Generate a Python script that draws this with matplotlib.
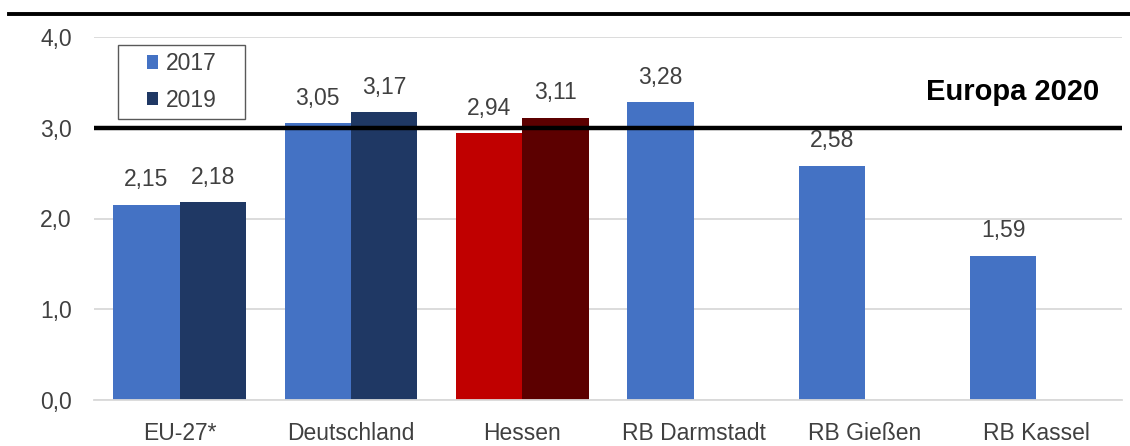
import numpy as np
import matplotlib.pyplot as plt
from matplotlib.patches import Rectangle

plt.rcParams['font.family'] = ['Liberation Sans', 'DejaVu Sans']

categories = ["EU-27*", "Deutschland", "Hessen", "RB Darmstadt", "RB Gießen", "RB Kassel"]
values_2017 = [2.15, 3.05, 2.94, 3.28, 2.58, 1.59]
values_2019 = [2.18, 3.17, 3.11, None, None, None]
target = 3.0

blue = "#4472C4"
navy = "#1F3864"
red = "#C00000"
darkred = "#5C0000"
txt = "#404040"
fs = 16.5
W, H = 1130, 446

fig = plt.figure(figsize=(11.3, 4.46), dpi=100)
ax = fig.add_axes([94 / W, (H - 400) / H, 1028 / W, 363 / H])

x = np.arange(len(categories))
w = 0.388
c17 = [red if c == "Hessen" else blue for c in categories]
c19 = [darkred if c == "Hessen" else navy for c in categories]

for i in range(len(categories)):
    ax.bar(x[i] - w / 2, values_2017[i], w, color=c17[i], zorder=2)
    ax.text(x[i] - w / 2, values_2017[i] + 0.15, "{:.2f}".format(values_2017[i]).replace(".", ","),
            ha="center", va="bottom", fontsize=fs, color=txt)
    if values_2019[i] is not None:
        ax.bar(x[i] + w / 2, values_2019[i], w, color=c19[i], zorder=2)
        ax.text(x[i] + w / 2, values_2019[i] + 0.15, "{:.2f}".format(values_2019[i]).replace(".", ","),
                ha="center", va="bottom", fontsize=fs, color=txt)

# legend without frame, box drawn by hand (wider padding than legend allows)
h1 = ax.bar(0, 0, color=blue, label="2017")
h2 = ax.bar(0, 0, color=navy, label="2019")
leg = fig.legend(handles=[h1, h2], loc="center", bbox_to_anchor=(182 / W, 1 - 82 / H),
                 fontsize=fs, frameon=False,
                 handlelength=0.5, handleheight=0.5, handletextpad=0.35,
                 labelspacing=0.6, borderpad=0.0, labelcolor=txt)
fig.add_artist(Rectangle((118 / W, 1 - 119 / H), 127 / W, 74 / H, transform=fig.transFigure,
                         fill=False, edgecolor="#595959", lw=1.0))

ax.axhline(target, color="black", lw=3.2, zorder=4)
ax.text(5.37, 3.39, "Europa 2020", ha="right", va="center", fontsize=21,
        fontweight="bold", color="black")

ax.set_xlim(-0.5, 5.5)
ax.set_ylim(0, 4.0)
ax.set_yticks([0, 1, 2, 3, 4])
ax.set_yticklabels(["0,0", "1,0", "2,0", "3,0", "4,0"])
ax.set_xticks(x)
ax.set_xticklabels(categories)
ax.tick_params(axis="both", length=0, labelsize=fs, colors=txt)
ax.tick_params(axis="y", pad=16)
ax.tick_params(axis="x", pad=16)
ax.grid(axis="y", color="#D9D9D9", lw=1.3, zorder=0)
ax.set_axisbelow(True)
for s in ["top", "right", "left"]:
    ax.spines[s].set_visible(False)
ax.spines["bottom"].set_color("#D9D9D9")
ax.spines["bottom"].set_linewidth(1.3)

# top rule of the cut off header
fig.add_artist(plt.Line2D([0.008, 1.0], [1 - 14 / H, 1 - 14 / H], color="black", lw=2.8))

fig.savefig("out.png", dpi=100)
